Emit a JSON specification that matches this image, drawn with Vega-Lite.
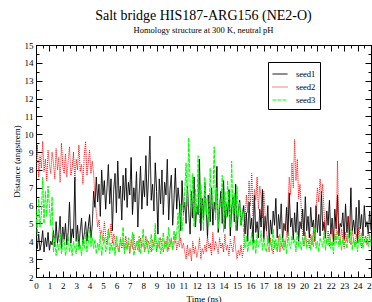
{
"$schema":"https://vega.github.io/schema/vega-lite/v6.json",
"autosize":{"type":"none"},
"padding":{"left":36,"top":45,"right":1,"bottom":25},
"width":335,"height":232,
"background":"white",
"config":{"view":{"stroke":"black","strokeWidth":1},"font":"Liberation Serif"},
"title":{"text":"Salt bridge HIS187-ARG156 (NE2-O)","subtitle":"Homology structure at 300 K, neutral pH","font":"Liberation Serif","fontSize":14,"fontWeight":"normal","color":"black","subtitleFont":"Liberation Serif","subtitleFontSize":8.5,"subtitleColor":"black","subtitlePadding":3,"offset":7,"anchor":"middle"},
"data":{"values":[
{"t":0.0,"seed1":4.1,"seed2":8.0,"seed3":5.8},{"t":0.1,"seed1":3.6,"seed2":9.4,"seed3":4.3},{"t":0.2,"seed1":4.4,"seed2":7.6,"seed3":6.4},{"t":0.3,"seed1":3.5,"seed2":8.8,"seed3":4.8},{"t":0.4,"seed1":3.9,"seed2":8.1,"seed3":5.5},{"t":0.5,"seed1":4.6,"seed2":9.6,"seed3":7.6},{"t":0.6,"seed1":3.4,"seed2":7.9,"seed3":5.0},{"t":0.7,"seed1":4.2,"seed2":8.6,"seed3":6.8},{"t":0.8,"seed1":3.7,"seed2":7.4,"seed3":5.4},{"t":0.9,"seed1":4.5,"seed2":9.1,"seed3":7.1},{"t":1.0,"seed1":3.5,"seed2":8.3,"seed3":6.0},{"t":1.1,"seed1":4.0,"seed2":7.8,"seed3":4.9},{"t":1.2,"seed1":3.8,"seed2":9.0,"seed3":6.5},
{"t":1.3,"seed1":4.6,"seed2":8.4,"seed3":3.4},{"t":1.4,"seed1":3.7,"seed2":7.5,"seed3":4.2},{"t":1.5,"seed1":5.1,"seed2":9.2,"seed3":3.2},{"t":1.6,"seed1":3.9,"seed2":8.0,"seed3":3.9},{"t":1.7,"seed1":4.4,"seed2":8.7,"seed3":3.5},{"t":1.8,"seed1":5.4,"seed2":7.3,"seed3":4.4},{"t":1.9,"seed1":3.6,"seed2":9.5,"seed3":3.3},{"t":2.0,"seed1":4.8,"seed2":8.2,"seed3":3.8},{"t":2.1,"seed1":4.1,"seed2":7.8,"seed3":4.1},{"t":2.2,"seed1":5.0,"seed2":8.9,"seed3":3.2},{"t":2.3,"seed1":3.8,"seed2":7.6,"seed3":3.7},{"t":2.4,"seed1":4.5,"seed2":8.5,"seed3":4.3},{"t":2.5,"seed1":6.2,"seed2":9.3,"seed3":3.4},{"t":2.6,"seed1":3.9,"seed2":7.7,"seed3":3.9},{"t":2.7,"seed1":4.7,"seed2":8.1,"seed3":3.2},{"t":2.8,"seed1":4.2,"seed2":9.0,"seed3":4.0},{"t":2.9,"seed1":7.6,"seed2":7.4,"seed3":3.6},{"t":3.0,"seed1":4.0,"seed2":8.6,"seed3":3.3},{"t":3.1,"seed1":4.9,"seed2":8.0,"seed3":4.4},{"t":3.2,"seed1":3.7,"seed2":9.4,"seed3":3.5},{"t":3.3,"seed1":4.6,"seed2":7.9,"seed3":3.8},{"t":3.4,"seed1":5.3,"seed2":8.3,"seed3":3.2},{"t":3.5,"seed1":3.9,"seed2":7.2,"seed3":4.1},{"t":3.6,"seed1":4.4,"seed2":8.8,"seed3":3.6},{"t":3.7,"seed1":5.1,"seed2":9.6,"seed3":4.5},{"t":3.8,"seed1":4.0,"seed2":7.7,"seed3":3.4},{"t":3.9,"seed1":4.8,"seed2":8.4,"seed3":3.9},{"t":4.0,"seed1":5.5,"seed2":9.1,"seed3":4.8},{"t":4.1,"seed1":4.2,"seed2":7.8,"seed3":3.7},{"t":4.2,"seed1":4.9,"seed2":8.5,"seed3":4.2},
{"t":4.3,"seed1":6.8,"seed2":7.8,"seed3":3.6},{"t":4.4,"seed1":5.9,"seed2":6.5,"seed3":4.1},{"t":4.5,"seed1":7.6,"seed2":5.6,"seed3":3.3},{"t":4.6,"seed1":6.2,"seed2":4.8,"seed3":3.9},{"t":4.7,"seed1":7.2,"seed2":5.2,"seed3":3.5},{"t":4.8,"seed1":5.4,"seed2":4.4,"seed3":4.4},{"t":4.9,"seed1":8.0,"seed2":4.6,"seed3":3.2},{"t":5.0,"seed1":6.6,"seed2":4.0,"seed3":3.8},{"t":5.1,"seed1":7.4,"seed2":5.1,"seed3":4.2},{"t":5.2,"seed1":5.8,"seed2":4.3,"seed3":3.4},{"t":5.3,"seed1":7.0,"seed2":3.8,"seed3":3.7},{"t":5.4,"seed1":8.3,"seed2":4.7,"seed3":4.6},{"t":5.5,"seed1":6.1,"seed2":4.2,"seed3":3.3},{"t":5.6,"seed1":7.5,"seed2":5.0,"seed3":3.9},{"t":5.7,"seed1":4.6,"seed2":3.9,"seed3":3.5},{"t":5.8,"seed1":6.9,"seed2":4.4,"seed3":4.0},{"t":5.9,"seed1":7.8,"seed2":4.1,"seed3":3.2},{"t":6.0,"seed1":5.6,"seed2":3.7,"seed3":4.3},{"t":6.1,"seed1":8.5,"seed2":3.8,"seed3":3.6},{"t":6.2,"seed1":6.4,"seed2":3.4,"seed3":3.4},{"t":6.3,"seed1":7.1,"seed2":4.2,"seed3":4.1},{"t":6.4,"seed1":5.2,"seed2":3.6,"seed3":3.7},{"t":6.5,"seed1":7.7,"seed2":4.0,"seed3":4.8},{"t":6.6,"seed1":6.3,"seed2":3.5,"seed3":3.3},{"t":6.7,"seed1":8.1,"seed2":4.3,"seed3":3.9},{"t":6.8,"seed1":5.9,"seed2":3.7,"seed3":3.5},{"t":6.9,"seed1":7.3,"seed2":3.9,"seed3":4.2},{"t":7.0,"seed1":6.6,"seed2":3.3,"seed3":3.4},{"t":7.1,"seed1":8.7,"seed2":4.1,"seed3":3.8},{"t":7.2,"seed1":5.5,"seed2":3.6,"seed3":4.5},{"t":7.3,"seed1":7.0,"seed2":4.4,"seed3":3.2},{"t":7.4,"seed1":6.2,"seed2":3.5,"seed3":3.6},{"t":7.5,"seed1":7.9,"seed2":3.8,"seed3":4.0},{"t":7.6,"seed1":4.8,"seed2":4.0,"seed3":3.5},{"t":7.7,"seed1":6.7,"seed2":3.4,"seed3":4.3},{"t":7.8,"seed1":8.2,"seed2":4.2,"seed3":3.3},{"t":7.9,"seed1":5.8,"seed2":3.7,"seed3":3.9},{"t":8.0,"seed1":7.4,"seed2":3.9,"seed3":4.7},{"t":8.1,"seed1":6.5,"seed2":3.5,"seed3":3.4},{"t":8.2,"seed1":8.8,"seed2":4.3,"seed3":3.7},{"t":8.3,"seed1":6.0,"seed2":3.6,"seed3":4.1},{"t":8.4,"seed1":7.6,"seed2":4.0,"seed3":3.3},{"t":8.5,"seed1":9.9,"seed2":3.8,"seed3":3.8},{"t":8.6,"seed1":6.3,"seed2":3.4,"seed3":4.4},{"t":8.7,"seed1":7.2,"seed2":4.1,"seed3":3.5},{"t":8.8,"seed1":5.7,"seed2":3.7,"seed3":3.6},{"t":8.9,"seed1":8.4,"seed2":4.5,"seed3":5.0},{"t":9.0,"seed1":6.8,"seed2":3.5,"seed3":3.4},{"t":9.1,"seed1":4.4,"seed2":3.9,"seed3":3.9},{"t":9.2,"seed1":7.5,"seed2":3.6,"seed3":4.2},{"t":9.3,"seed1":6.1,"seed2":4.2,"seed3":3.3},{"t":9.4,"seed1":8.0,"seed2":3.8,"seed3":3.7},{"t":9.5,"seed1":5.5,"seed2":3.4,"seed3":4.5},{"t":9.6,"seed1":7.3,"seed2":4.0,"seed3":3.6},{"t":9.7,"seed1":6.6,"seed2":3.7,"seed3":4.0},{"t":9.8,"seed1":8.6,"seed2":4.3,"seed3":3.4},{"t":9.9,"seed1":5.2,"seed2":3.5,"seed3":4.8},{"t":10.0,"seed1":6.9,"seed2":3.9,"seed3":3.7},{"t":10.1,"seed1":7.7,"seed2":4.1,"seed3":4.2},{"t":10.2,"seed1":4.9,"seed2":3.6,"seed3":3.5},{"t":10.3,"seed1":6.4,"seed2":3.8,"seed3":4.6},{"t":10.4,"seed1":8.1,"seed2":4.4,"seed3":3.9},{"t":10.5,"seed1":5.8,"seed2":3.5,"seed3":4.4},{"t":10.6,"seed1":7.0,"seed2":4.0,"seed3":5.6},{"t":10.7,"seed1":6.2,"seed2":3.7,"seed3":4.0},{"t":10.8,"seed1":4.6,"seed2":4.2,"seed3":6.1},{"t":10.9,"seed1":7.4,"seed2":3.6,"seed3":4.6},{"t":11.0,"seed1":5.6,"seed2":3.9,"seed3":5.4},
{"t":11.1,"seed1":6.2,"seed2":3.4,"seed3":6.8},{"t":11.2,"seed1":5.0,"seed2":3.0,"seed3":8.4},{"t":11.3,"seed1":7.1,"seed2":3.8,"seed3":6.0},{"t":11.4,"seed1":5.6,"seed2":3.2,"seed3":9.8},{"t":11.5,"seed1":4.4,"seed2":3.6,"seed3":7.2},{"t":11.6,"seed1":6.8,"seed2":2.9,"seed3":5.4},{"t":11.7,"seed1":5.3,"seed2":4.0,"seed3":7.8},{"t":11.8,"seed1":7.6,"seed2":3.3,"seed3":4.8},{"t":11.9,"seed1":4.8,"seed2":3.7,"seed3":6.9},{"t":12.0,"seed1":6.0,"seed2":3.1,"seed3":5.6},{"t":12.1,"seed1":5.5,"seed2":3.5,"seed3":8.8},{"t":12.2,"seed1":8.6,"seed2":4.2,"seed3":5.0},{"t":12.3,"seed1":4.6,"seed2":3.0,"seed3":7.2},{"t":12.4,"seed1":6.4,"seed2":3.6,"seed3":6.1},{"t":12.5,"seed1":5.2,"seed2":3.3,"seed3":4.6},{"t":12.6,"seed1":7.3,"seed2":3.8,"seed3":7.6},{"t":12.7,"seed1":5.8,"seed2":3.4,"seed3":5.5},{"t":12.8,"seed1":4.2,"seed2":4.3,"seed3":6.6},{"t":12.9,"seed1":6.6,"seed2":3.6,"seed3":4.9},{"t":13.0,"seed1":5.1,"seed2":3.9,"seed3":8.1},{"t":13.1,"seed1":7.0,"seed2":3.2,"seed3":5.8},{"t":13.2,"seed1":4.9,"seed2":4.5,"seed3":6.4},{"t":13.3,"seed1":6.2,"seed2":3.5,"seed3":9.3},{"t":13.4,"seed1":5.6,"seed2":4.0,"seed3":5.2},{"t":13.5,"seed1":8.2,"seed2":3.7,"seed3":7.0},{"t":13.6,"seed1":4.5,"seed2":3.3,"seed3":4.7},{"t":13.7,"seed1":5.9,"seed2":4.2,"seed3":6.3},{"t":13.8,"seed1":6.8,"seed2":3.6,"seed3":5.9},{"t":13.9,"seed1":5.0,"seed2":3.9,"seed3":7.7},{"t":14.0,"seed1":7.4,"seed2":3.4,"seed3":4.5},{"t":14.1,"seed1":4.7,"seed2":4.4,"seed3":6.8},{"t":14.2,"seed1":6.1,"seed2":3.5,"seed3":5.3},{"t":14.3,"seed1":5.4,"seed2":3.8,"seed3":7.4},{"t":14.4,"seed1":6.9,"seed2":3.2,"seed3":6.0},{"t":14.5,"seed1":4.3,"seed2":4.1,"seed3":4.8},{"t":14.6,"seed1":5.8,"seed2":3.7,"seed3":8.5},{"t":14.7,"seed1":6.5,"seed2":3.4,"seed3":5.6},{"t":14.8,"seed1":5.1,"seed2":4.3,"seed3":6.7},{"t":14.9,"seed1":7.2,"seed2":3.6,"seed3":4.6},{"t":15.0,"seed1":4.6,"seed2":3.0,"seed3":7.1},{"t":15.1,"seed1":5.7,"seed2":3.5,"seed3":5.4},{"t":15.2,"seed1":6.3,"seed2":3.2,"seed3":6.2},{"t":15.3,"seed1":4.9,"seed2":3.8,"seed3":4.9},{"t":15.4,"seed1":5.5,"seed2":3.1,"seed3":5.7},{"t":15.5,"seed1":6.0,"seed2":3.6,"seed3":4.5},
{"t":15.6,"seed1":4.4,"seed2":5.2,"seed3":3.6},{"t":15.7,"seed1":5.6,"seed2":6.6,"seed3":4.3},{"t":15.8,"seed1":4.0,"seed2":5.6,"seed3":3.4},{"t":15.9,"seed1":6.2,"seed2":7.4,"seed3":4.0},{"t":16.0,"seed1":4.7,"seed2":6.0,"seed3":3.8},{"t":16.1,"seed1":5.3,"seed2":7.8,"seed3":4.5},{"t":16.2,"seed1":3.9,"seed2":5.4,"seed3":3.5},{"t":16.3,"seed1":6.6,"seed2":6.9,"seed3":4.1},{"t":16.4,"seed1":4.5,"seed2":6.3,"seed3":3.3},{"t":16.5,"seed1":5.1,"seed2":7.6,"seed3":4.4},{"t":16.6,"seed1":4.2,"seed2":5.8,"seed3":3.7},{"t":16.7,"seed1":5.8,"seed2":7.1,"seed3":3.9},{"t":16.8,"seed1":4.8,"seed2":6.5,"seed3":4.6},{"t":16.9,"seed1":6.9,"seed2":5.3,"seed3":3.5},{"t":17.0,"seed1":4.1,"seed2":6.8,"seed3":4.2},{"t":17.1,"seed1":5.4,"seed2":5.5,"seed3":3.6},{"t":17.2,"seed1":4.6,"seed2":4.6,"seed3":3.4},{"t":17.3,"seed1":6.0,"seed2":3.8,"seed3":4.3},{"t":17.4,"seed1":3.9,"seed2":3.4,"seed3":3.8},{"t":17.5,"seed1":5.2,"seed2":4.2,"seed3":4.0},{"t":17.6,"seed1":4.4,"seed2":3.6,"seed3":3.5},{"t":17.7,"seed1":5.7,"seed2":3.3,"seed3":4.7},{"t":17.8,"seed1":4.9,"seed2":4.0,"seed3":3.6},{"t":17.9,"seed1":6.4,"seed2":3.7,"seed3":4.1},{"t":18.0,"seed1":4.2,"seed2":3.5,"seed3":3.4},{"t":18.1,"seed1":5.5,"seed2":4.3,"seed3":3.9},{"t":18.2,"seed1":4.7,"seed2":3.4,"seed3":4.4},{"t":18.3,"seed1":6.1,"seed2":3.9,"seed3":3.7},{"t":18.4,"seed1":4.0,"seed2":3.6,"seed3":4.2},{"t":18.5,"seed1":5.0,"seed2":4.1,"seed3":3.5},{"t":18.6,"seed1":4.6,"seed2":3.8,"seed3":4.0},{"t":18.7,"seed1":5.9,"seed2":4.4,"seed3":3.3},{"t":18.8,"seed1":4.3,"seed2":6.0,"seed3":4.5},{"t":18.9,"seed1":6.7,"seed2":7.6,"seed3":3.8},{"t":19.0,"seed1":4.8,"seed2":6.6,"seed3":3.6},{"t":19.1,"seed1":5.3,"seed2":8.4,"seed3":4.3},{"t":19.2,"seed1":4.1,"seed2":7.0,"seed3":3.9},{"t":19.3,"seed1":5.6,"seed2":9.7,"seed3":4.1},{"t":19.4,"seed1":4.5,"seed2":7.4,"seed3":3.4},{"t":19.5,"seed1":6.2,"seed2":8.6,"seed3":4.6},{"t":19.6,"seed1":4.0,"seed2":6.4,"seed3":3.7},{"t":19.7,"seed1":5.1,"seed2":7.2,"seed3":4.0},{"t":19.8,"seed1":4.7,"seed2":5.8,"seed3":3.5},{"t":19.9,"seed1":5.8,"seed2":4.2,"seed3":4.2},{"t":20.0,"seed1":4.3,"seed2":3.7,"seed3":3.8},{"t":20.1,"seed1":6.5,"seed2":4.5,"seed3":4.4},{"t":20.2,"seed1":4.6,"seed2":3.9,"seed3":3.6},{"t":20.3,"seed1":5.4,"seed2":4.1,"seed3":3.9},{"t":20.4,"seed1":4.2,"seed2":3.6,"seed3":4.1},{"t":20.5,"seed1":5.9,"seed2":4.4,"seed3":3.5},{"t":20.6,"seed1":4.8,"seed2":3.8,"seed3":4.3},{"t":20.7,"seed1":5.2,"seed2":4.6,"seed3":3.7},{"t":20.8,"seed1":4.0,"seed2":4.0,"seed3":4.8},{"t":20.9,"seed1":6.0,"seed2":5.8,"seed3":3.6},{"t":21.0,"seed1":4.5,"seed2":7.0,"seed3":4.0},{"t":21.1,"seed1":5.5,"seed2":6.2,"seed3":3.4},{"t":21.2,"seed1":4.3,"seed2":7.5,"seed3":4.2},{"t":21.3,"seed1":6.8,"seed2":6.6,"seed3":3.9},{"t":21.4,"seed1":4.6,"seed2":7.2,"seed3":3.7},{"t":21.5,"seed1":5.1,"seed2":5.6,"seed3":4.5},{"t":21.6,"seed1":4.2,"seed2":4.3,"seed3":3.5},{"t":21.7,"seed1":5.7,"seed2":3.9,"seed3":4.1},{"t":21.8,"seed1":4.9,"seed2":4.6,"seed3":3.8},{"t":21.9,"seed1":6.3,"seed2":3.7,"seed3":4.4},{"t":22.0,"seed1":4.4,"seed2":4.2,"seed3":3.6},{"t":22.1,"seed1":5.3,"seed2":4.8,"seed3":4.0},{"t":22.2,"seed1":4.0,"seed2":3.8,"seed3":3.3},{"t":22.3,"seed1":5.8,"seed2":4.4,"seed3":4.3},{"t":22.4,"seed1":4.7,"seed2":4.1,"seed3":3.9},{"t":22.5,"seed1":6.6,"seed2":8.5,"seed3":4.6},{"t":22.6,"seed1":4.3,"seed2":4.3,"seed3":3.7},{"t":22.7,"seed1":5.0,"seed2":3.9,"seed3":4.1},{"t":22.8,"seed1":4.8,"seed2":4.7,"seed3":3.5},{"t":22.9,"seed1":5.6,"seed2":4.1,"seed3":4.2},{"t":23.0,"seed1":4.1,"seed2":3.6,"seed3":3.8},{"t":23.1,"seed1":6.1,"seed2":4.5,"seed3":4.0},{"t":23.2,"seed1":4.5,"seed2":4.0,"seed3":3.6},{"t":23.3,"seed1":5.4,"seed2":5.4,"seed3":4.4},{"t":23.4,"seed1":4.2,"seed2":4.2,"seed3":3.9},{"t":23.5,"seed1":7.0,"seed2":3.8,"seed3":4.7},{"t":23.6,"seed1":4.6,"seed2":4.6,"seed3":3.5},{"t":23.7,"seed1":5.2,"seed2":4.1,"seed3":4.2},{"t":23.8,"seed1":4.4,"seed2":3.7,"seed3":3.7},{"t":23.9,"seed1":5.9,"seed2":4.4,"seed3":4.0},{"t":24.0,"seed1":4.0,"seed2":3.9,"seed3":3.4},{"t":24.1,"seed1":6.3,"seed2":4.8,"seed3":4.3},{"t":24.2,"seed1":4.7,"seed2":4.2,"seed3":3.8},{"t":24.3,"seed1":5.5,"seed2":3.6,"seed3":4.5},{"t":24.4,"seed1":4.3,"seed2":4.5,"seed3":3.6},{"t":24.5,"seed1":6.0,"seed2":4.0,"seed3":4.1},{"t":24.6,"seed1":4.8,"seed2":4.3,"seed3":3.9},{"t":24.7,"seed1":5.1,"seed2":3.8,"seed3":4.2},{"t":24.8,"seed1":4.4,"seed2":4.6,"seed3":3.7},{"t":24.9,"seed1":5.7,"seed2":4.1,"seed3":4.4},{"t":25.0,"seed1":4.6,"seed2":3.9,"seed3":3.8}
]},
"transform":[{"fold":["seed1","seed2","seed3"],"as":["series","dist"]}],
"layer":[
{"mark":{"type":"line","strokeWidth":1,"clip":true},
 "encoding":{
  "x":{"field":"t","type":"quantitative","scale":{"domain":[0,25],"nice":false,"zero":false},
       "axis":{"title":"Time (ns)","values":[0,0.5,1,1.5,2,2.5,3,3.5,4,4.5,5,5.5,6,6.5,7,7.5,8,8.5,9,9.5,10,10.5,11,11.5,12,12.5,13,13.5,14,14.5,15,15.5,16,16.5,17,17.5,18,18.5,19,19.5,20,20.5,21,21.5,22,22.5,23,23.5,24,24.5,25],
        "labelExpr":"datum.value % 1 === 0 ? format(datum.value, 'd') : ''","labelOverlap":false,"labelFlush":false,"grid":false,
        "tickSize":{"condition":{"test":"datum.value % 1 === 0","value":-6},"value":-3},
        "labelPadding":10,"labelFont":"Liberation Serif","labelFontSize":9,"labelColor":"black",
        "titleFont":"Liberation Serif","titleFontSize":9,"titleFontWeight":"normal","titleColor":"black","titlePadding":1,
        "domainColor":"black","tickColor":"black"}},
  "y":{"field":"dist","type":"quantitative","scale":{"domain":[2,15],"nice":false,"zero":false},
       "axis":{"title":"Distance (angstrem)","values":[2,2.5,3,3.5,4,4.5,5,5.5,6,6.5,7,7.5,8,8.5,9,9.5,10,10.5,11,11.5,12,12.5,13,13.5,14,14.5,15],
        "labelExpr":"datum.value % 1 === 0 ? format(datum.value, 'd') : ''","labelOverlap":false,"labelFlush":false,"grid":false,
        "tickSize":{"condition":{"test":"datum.value % 1 === 0","value":-6},"value":-3},
        "labelPadding":9,"labelFont":"Liberation Serif","labelFontSize":9,"labelColor":"black",
        "titleFont":"Liberation Serif","titleFontSize":9,"titleFontWeight":"normal","titleColor":"black","titlePadding":3,
        "domainColor":"black","tickColor":"black"}},
  "color":{"field":"series","type":"nominal","scale":{"domain":["seed1","seed2","seed3"],"range":["#000000","#ff0000","#00ff00"]},
     "legend":{"title":null,"orient":"none","legendX":232,"legendY":17,"direction":"vertical","strokeColor":"black","fillColor":"white","padding":4,
       "symbolType":"stroke","symbolSize":225,"symbolStrokeWidth":1,"labelFont":"Liberation Serif","labelFontSize":8.5,"labelColor":"black","rowPadding":0,"labelOffset":8}},
  "strokeDash":{"field":"series","type":"nominal","scale":{"domain":["seed1","seed2","seed3"],"range":[[1,0],[1,1],[4,1]]},"legend":null}
 }},
{"mark":{"type":"point","opacity":0},
 "encoding":{
  "x":{"field":"t","type":"quantitative","axis":{"orient":"top","title":null,"labels":false,"grid":false,"values":[0,0.5,1,1.5,2,2.5,3,3.5,4,4.5,5,5.5,6,6.5,7,7.5,8,8.5,9,9.5,10,10.5,11,11.5,12,12.5,13,13.5,14,14.5,15,15.5,16,16.5,17,17.5,18,18.5,19,19.5,20,20.5,21,21.5,22,22.5,23,23.5,24,24.5,25],
     "tickSize":{"condition":{"test":"datum.value % 1 === 0","value":-6},"value":-3},"domainColor":"black","tickColor":"black"}},
  "y":{"field":"dist","type":"quantitative","axis":{"orient":"right","title":null,"labels":false,"grid":false,"values":[2,2.5,3,3.5,4,4.5,5,5.5,6,6.5,7,7.5,8,8.5,9,9.5,10,10.5,11,11.5,12,12.5,13,13.5,14,14.5,15],
     "tickSize":{"condition":{"test":"datum.value % 1 === 0","value":-6},"value":-3},"domainColor":"black","tickColor":"black"}}
 }}
],
"resolve":{"axis":{"x":"independent","y":"independent"}}
}
